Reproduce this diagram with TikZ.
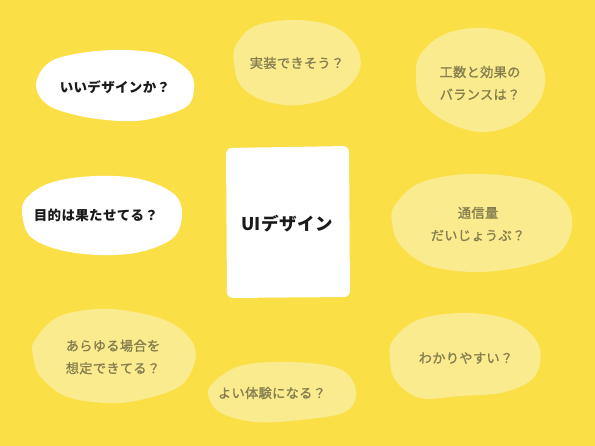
\documentclass[tikz,border=0pt]{standalone}
\usepackage{fontspec}
\newfontfamily\jp[LetterSpace=2.5]{Noto Sans CJK JP}
\newfontfamily\jpmed[LetterSpace=2.5,FakeBold=1.2]{Noto Sans CJK JP}
\definecolor{bgyellow}{HTML}{FBDF47}
\definecolor{lightblob}{HTML}{FBEB8F}
\definecolor{greytext}{HTML}{857E4E}
\definecolor{darktext}{HTML}{1A1A1A}
\tikzset{
  whiteblob/.style={fill=white, draw=none},
  lightshape/.style={fill=lightblob, draw=none},
  darklabel/.style={text=darktext, font=\jp\bfseries\fontsize{13.5}{15}\selectfont, align=center},
  greylabel/.style={text=greytext, font=\jpmed\fontsize{13.2}{22.5}\selectfont, align=center},
}
\begin{document}
\begin{tikzpicture}[x=1pt,y=-1pt]
\fill[bgyellow] (0,0) rectangle (595,446);
\useasboundingbox (0,0) rectangle (595,446);
% white blobs
\fill[whiteblob] plot[smooth cycle, tension=0.6] coordinates {(36,86) (46,65) (70,55) (115,50) (160,54) (188,70) (194,88) (186,107) (150,119) (120,121) (80,116) (48,105)};
\fill[whiteblob] plot[smooth cycle, tension=0.6] coordinates {(25,200) (50,183) (95,176) (140,179) (174,194) (182,215) (173,238) (140,252) (100,255) (60,250) (32,238) (23,220)};
% centre
\fill[whiteblob, rounded corners=6pt] (226,148) -- (349,146) -- (350,297) -- (227,298) -- cycle;
% light blobs
\fill[lightshape] plot[smooth cycle, tension=0.6] coordinates {(236,45) (255,26) (295,20) (335,27) (357,48) (359,72) (338,94) (300,105) (265,101) (241,86) (234,63)};
\fill[lightshape] plot[smooth cycle, tension=0.6] coordinates {(420,55) (445,34) (485,28) (524,40) (544,70) (540,100) (515,124) (480,132) (445,121) (421,101) (416,78)};
\fill[lightshape] plot[smooth cycle, tension=0.6] coordinates {(395,205) (420,183) (470,174) (530,180) (564,200) (572,226) (560,252) (530,265) (480,272) (430,266) (401,246) (392,223)};
\fill[lightshape] plot[smooth cycle, tension=0.6] coordinates {(35,340) (60,316) (110,309) (165,320) (191,340) (195,361) (180,386) (140,400) (105,403) (65,396) (40,376) (33,356)};
\fill[lightshape] plot[smooth cycle, tension=0.6] coordinates {(212,384) (240,366) (290,362) (340,369) (356,391) (345,412) (300,420) (255,422) (221,413) (209,398)};
\fill[lightshape] plot[smooth cycle, tension=0.6] coordinates {(393,340) (420,319) (470,313) (515,322) (539,346) (535,376) (505,392) (460,396) (420,398) (396,381) (390,360)};
% labels
\node[darklabel] (q1) at (115,87) {いいデザインか？};
\node[darklabel] (q2) at (96,215) {目的は果たせてる？};
\node[text=darktext, font=\jp\bfseries\fontsize{17.5}{20}\selectfont] (ui) at (287,224) {UIデザイン};
\node[greylabel] (q3) at (297,63) {実装できそう？};
\node[greylabel] (q4) at (480,83) {工数と効果の\\バランスは？};
\node[greylabel] (q5) at (478,224) {通信量\\だいじょうぶ？};
\node[greylabel] (q6) at (113,357) {あらゆる場合を\\想定できてる？};
\node[greylabel] (q7) at (272,393) {よい体験になる？};
\node[greylabel] (q8) at (466,358) {わかりやすい？};
\end{tikzpicture}
\end{document}
